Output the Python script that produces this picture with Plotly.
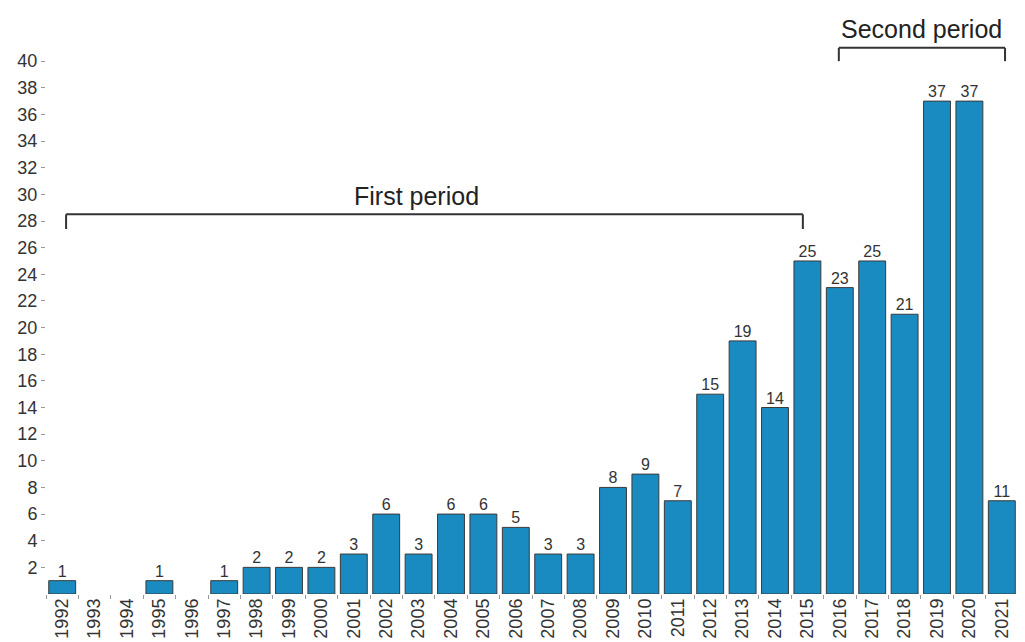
import plotly.graph_objects as go

years = [str(y) for y in range(1992, 2022)]
heights = [1, 0, 0, 1, 0, 1, 2, 2, 2, 3, 6, 3, 6, 6, 5, 3, 3, 8, 9, 7,
           15, 19, 14, 25, 23, 25, 21, 37, 37, 7]
labels = ["1", "", "", "1", "", "1", "2", "2", "2", "3", "6", "3", "6", "6", "5",
          "3", "3", "8", "9", "7", "15", "19", "14", "25", "23", "25", "21",
          "37", "37", "11"]
y_ticks = list(range(2, 41, 2))

FONT = "Liberation Sans, Arial, sans-serif"

fig = go.Figure()
fig.add_trace(go.Bar(
    x=years, y=[v if v else None for v in heights],
    marker=dict(color="#1a8bc1", line=dict(color="#3a3a3a", width=1)),
    hoverinfo="x+y",
))
fig.add_trace(go.Scatter(
    x=years, y=heights, text=labels, mode="text", textposition="top center",
    textfont=dict(family=FONT, size=16, color="#333333"),
    cliponaxis=False, hoverinfo="skip",
))

bracket_color = "#333333"
# First period bracket
fig.add_shape(type="line", xref="x", yref="y", x0=0.12, x1=22.86, y0=28.5, y1=28.5,
              line=dict(color=bracket_color, width=2))
fig.add_shape(type="line", xref="x", yref="y", x0=0.12, x1=0.12, y0=28.5, y1=27.4,
              line=dict(color=bracket_color, width=2))
fig.add_shape(type="line", xref="x", yref="y", x0=22.86, x1=22.86, y0=28.5, y1=27.4,
              line=dict(color=bracket_color, width=2))
fig.add_annotation(x=10.95, y=28.65, xref="x", yref="y", text="First period",
                   showarrow=False, yanchor="bottom",
                   font=dict(family=FONT, size=25, color="#222222"))
# Second period bracket
fig.add_shape(type="line", xref="x", yref="y", x0=23.97, x1=29.1, y0=41.0, y1=41.0,
              line=dict(color=bracket_color, width=2))
fig.add_shape(type="line", xref="x", yref="y", x0=23.97, x1=23.97, y0=41.0, y1=40.0,
              line=dict(color=bracket_color, width=2))
fig.add_shape(type="line", xref="x", yref="y", x0=29.1, x1=29.1, y0=41.0, y1=40.0,
              line=dict(color=bracket_color, width=2))
fig.add_annotation(x=26.53, y=41.25, xref="x", yref="y", text="Second period",
                   showarrow=False, yanchor="bottom",
                   font=dict(family=FONT, size=25, color="#222222"))

fig.update_layout(
    width=1017, height=634,
    margin=dict(l=38, r=7, t=6, b=48),
    plot_bgcolor="white", paper_bgcolor="white",
    bargap=0.17, showlegend=False,
    font=dict(family=FONT, color="#333333"),
)
fig.update_xaxes(
    type="category", tickangle=-90, tickson="boundaries",
    ticks="outside", ticklen=4, tickcolor="#999999",
    tickfont=dict(family=FONT, size=18, color="#333333"),
    showline=False, showgrid=False, zeroline=False,
    range=[-0.5, 29.5], automargin=False,
)
fig.update_yaxes(
    range=[0, 43.54], tickvals=y_ticks, ticktext=[str(v) for v in y_ticks],
    ticks="outside", ticklen=4, tickcolor="#999999",
    tickfont=dict(family=FONT, size=18, color="#333333"),
    showline=False, showgrid=False, zeroline=False, automargin=False,
)

fig.write_html("out.html")
